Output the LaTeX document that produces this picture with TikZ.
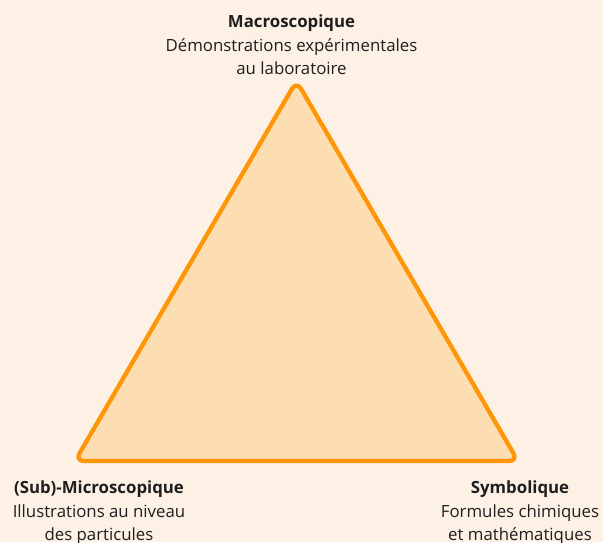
\documentclass[tikz,border=0pt]{standalone}
\usepackage{fontspec}
\setmainfont{Open Sans}
\definecolor{bgc}{HTML}{FDF1E5}
\definecolor{fillc}{HTML}{FDDDB2}
\definecolor{strokec}{HTML}{FF9508}
\definecolor{txtc}{HTML}{1E1E1E}
\begin{document}
\begin{tikzpicture}[x=1pt,y=1pt,
  lbl/.style={align=center,font=\fontsize{16.8}{23.5}\selectfont,text=txtc,inner sep=0pt}]
\fill[bgc] (0,0) rectangle (603,542);
\useasboundingbox (0,0) rectangle (603,542);
\coordinate (A) at (296.5,461);
\coordinate (B) at (75,81);
\coordinate (C) at (518,81);
\filldraw[fill=fillc,draw=strokec,line width=4.3pt,rounded corners=9pt,line join=round]
  (A) -- (B) -- (C) -- cycle;
\node[lbl] (top) at (291.5,497) {\textbf{Macroscopique}\\Démonstrations expérimentales\\au laboratoire};
\node[lbl] (left) at (99,29) {\textbf{(Sub)-Microscopique}\\Illustrations au niveau\\des particules};
\node[lbl] (right) at (520,29) {\textbf{Symbolique}\\Formules chimiques\\et mathématiques};
\end{tikzpicture}
\end{document}
